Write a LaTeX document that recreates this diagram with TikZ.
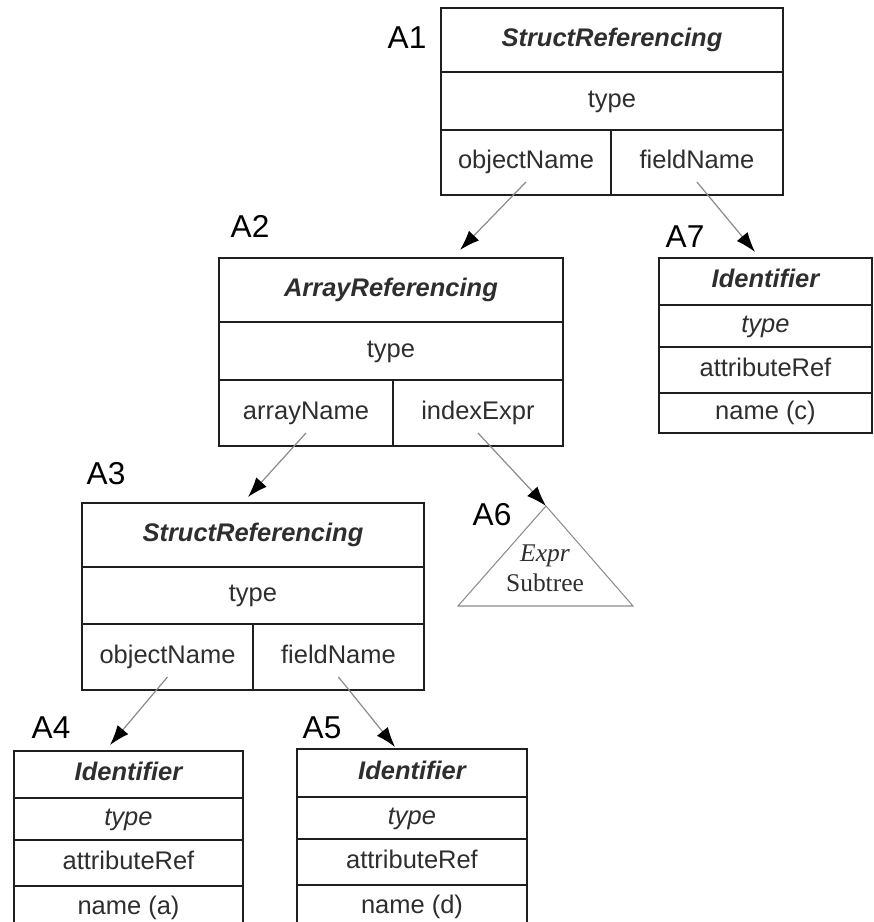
\documentclass[tikz,border=0pt]{standalone}
\usepackage{fontspec}
\setsansfont{Liberation Sans}
\newfontfamily\serifface{Liberation Serif}
\usetikzlibrary{arrows.meta, positioning}
\definecolor{LineGray}{gray}{0.55}
\definecolor{BoxBlack}{gray}{0.12}
\definecolor{TextGray}{gray}{0.18}

\begin{document}
\begin{tikzpicture}[
    x=0.02cm, y=-0.02cm,
    font=\sffamily\fontsize{14.5}{17}\selectfont,
    cell/.style={draw=BoxBlack, line width=1.1pt, outer sep=0pt, inner sep=0pt,
        align=center, text=TextGray, text height=1.9ex, text depth=0.2ex},
    head/.style={cell, font=\sffamily\bfseries\itshape\fontsize{14.5}{17}\selectfont},
    slant/.style={cell, font=\sffamily\itshape\fontsize{14.5}{17}\selectfont},
    tag/.style={font=\sffamily\fontsize{18}{20}\selectfont},
    link/.style={-{Latex[length=4mm, width=2.8mm, black]}, LineGray, line width=0.7pt},
]
\clip (0,0) rectangle (874,922);

% A1
\node[head, minimum width=6.84cm, minimum height=1.28cm, anchor=north west] (a1t) at (441,8) {StructReferencing};
\node[cell, minimum width=6.84cm, minimum height=1.16cm, below=0pt of a1t] (a1ty) {type};
\node[cell, minimum width=3.40cm, minimum height=1.30cm, anchor=north west] (a1obj) at (a1ty.south west) {objectName};
\node[cell, minimum width=3.44cm, minimum height=1.30cm, anchor=north west] (a1fld) at (a1obj.north east) {fieldName};
\node[tag] (lblA1) at (407,38) {A1};

% A2
\node[head, minimum width=6.88cm, minimum height=1.28cm, anchor=north west] (a2t) at (219,258) {ArrayReferencing};
\node[cell, minimum width=6.88cm, minimum height=1.16cm, below=0pt of a2t] (a2ty) {type};
\node[cell, minimum width=3.48cm, minimum height=1.32cm, anchor=north west] (a2arr) at (a2ty.south west) {arrayName};
\node[cell, minimum width=3.40cm, minimum height=1.32cm, anchor=north west] (a2idx) at (a2arr.north east) {indexExpr};
\node[tag] (lblA2) at (250,226) {A2};

% A7
\node[head, minimum width=4.26cm, minimum height=0.94cm, anchor=north west] (a7t) at (659,258) {Identifier};
\node[slant, minimum width=4.26cm, minimum height=0.84cm, below=0pt of a7t] (a7ty) {type};
\node[cell, minimum width=4.26cm, minimum height=0.92cm, below=0pt of a7ty] (a7ref) {attributeRef};
\node[cell, minimum width=4.26cm, minimum height=0.80cm, below=0pt of a7ref] (a7nm) {name (c)};
\node[tag] (lblA7) at (685,237) {A7};

% A3
\node[head, minimum width=6.84cm, minimum height=1.28cm, anchor=north west] (a3t) at (82,503) {StructReferencing};
\node[cell, minimum width=6.84cm, minimum height=1.14cm, below=0pt of a3t] (a3ty) {type};
\node[cell, minimum width=3.42cm, minimum height=1.32cm, anchor=north west] (a3obj) at (a3ty.south west) {objectName};
\node[cell, minimum width=3.42cm, minimum height=1.32cm, anchor=north west] (a3fld) at (a3obj.north east) {fieldName};
\node[tag] (lblA3) at (106,474) {A3};

% A6 (subtree)
\coordinate (a6top) at (546,506);
\draw[LineGray, line width=0.6pt] (a6top) -- (458,606) -- (633,606) -- cycle;
\node[align=center, text=TextGray, font=\serifface\fontsize{14.5}{17}\selectfont] (a6) at (545,568) {\textit{Expr}\\Subtree};
\node[tag] (lblA6) at (492,515) {A6};

% A4
\node[head, minimum width=4.58cm, minimum height=0.94cm, anchor=north west] (a4t) at (14,751) {Identifier};
\node[slant, minimum width=4.58cm, minimum height=0.84cm, below=0pt of a4t] (a4ty) {type};
\node[cell, minimum width=4.58cm, minimum height=0.92cm, below=0pt of a4ty] (a4ref) {attributeRef};
\node[cell, minimum width=4.58cm, minimum height=0.88cm, below=0pt of a4ref] (a4nm) {name (a)};
\node[tag] (lblA4) at (51,728) {A4};

% A5
\node[head, minimum width=4.60cm, minimum height=0.96cm, anchor=north west] (a5t) at (297,749) {Identifier};
\node[slant, minimum width=4.60cm, minimum height=0.84cm, below=0pt of a5t] (a5ty) {type};
\node[cell, minimum width=4.60cm, minimum height=0.92cm, below=0pt of a5ty] (a5ref) {attributeRef};
\node[cell, minimum width=4.60cm, minimum height=0.90cm, below=0pt of a5ref] (a5nm) {name (d)};
\node[tag] (lblA5) at (322,728) {A5};

% arrow ends
\coordinate (a2in) at (460,250);
\coordinate (a7in) at (755,252);
\coordinate (a3in) at (248,497);
\coordinate (a4in) at (110,745);
\coordinate (a5in) at (395,747);

\foreach \s/\t in {a1obj/a2in, a1fld/a7in, a2arr/a3in, a2idx/a6top, a3obj/a4in, a3fld/a5in}
    \draw[link] ([yshift=2.6mm]\s.south) -- (\t);

\end{tikzpicture}
\end{document}
